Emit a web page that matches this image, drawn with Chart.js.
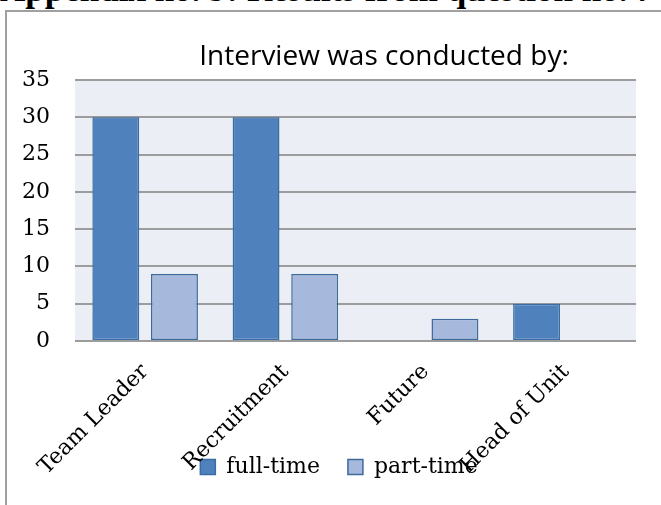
<!DOCTYPE html>
<html>
<head>
<meta charset="utf-8">
<script src="https://cdn.jsdelivr.net/npm/chart.js@4.4.0/dist/chart.umd.min.js"></script>
<style>
    html, body { margin: 0; padding: 0; background: #fff; overflow: hidden; }
    #wrap { position: relative; width: 661px; height: 505px; overflow: hidden; }
    #heading { position: absolute; left: 0; top: -28px; font: bold 35px "Liberation Serif", serif; line-height: 1; white-space: nowrap; color: #000; }
    #frame { position: absolute; left: 5px; top: 10px; width: 700px; height: 600px; border-left: 2px solid #a0a0a0; border-top: 2px solid #a0a0a0; }
    canvas { position: absolute; left: 0; top: 0; }
</style>
</head>
<body>
<div id="wrap">
    <div id="heading">Appendix no. 9: Results from question no. 7</div>
    <div id="frame"></div>
    <canvas id="interviewChart" width="661" height="505"></canvas>
</div>
<script>
// data
var categories = ['Team Leader', 'Recruitment', 'Future', 'Head of Unit'];
var fullTime = [30, 30, null, 5];
var partTime = [9, 9, 3, null];
var seriesNames = ['full-time', 'part-time'];
var yMax = 35;
var yStep = 5;

var SERIF = 'DejaVu Serif';
var PLOT_BG = '#ebeef4';

// fill the plot area; move title and legend to where the original has them
// (the legend overlaps the slanted category labels there, so the x axis box
// is stretched down too, otherwise its labels get clipped)
var plotLook = {
    id: 'plotLook',
    afterLayout: function(chart) {
        if (chart.titleBlock) {
            chart.titleBlock.left += 66;
            chart.titleBlock.right += 66;
        }
        if (chart.legend) {
            chart.legend.left += 21;
            chart.legend.right += 21;
            chart.legend.top -= 17;
            chart.legend.bottom -= 17;
        }
        var x = chart.scales.x;
        x.bottom = chart.height;
        x.height = x.bottom - x.top;
    },
    beforeDraw: function(chart) {
        var a = chart.chartArea;
        var ctx = chart.ctx;
        ctx.save();
        ctx.fillStyle = PLOT_BG;
        ctx.fillRect(a.left, a.top, a.right - a.left, a.bottom - a.top);
        ctx.restore();
    }
};

new Chart(document.getElementById('interviewChart'), {
    type: 'bar',
    data: {
        labels: categories,
        datasets: [
            { label: seriesNames[0], data: fullTime, backgroundColor: '#4f81bd', borderColor: '#3b6ca3', borderWidth: 1.5, borderSkipped: false },
            { label: seriesNames[1], data: partTime, backgroundColor: '#a6b9dc', borderColor: '#3d6a9c', borderWidth: 1.5, borderSkipped: false }
        ]
    },
    options: {
        responsive: false,
        animation: false,
        categoryPercentage: 0.836,
        barPercentage: 0.8,
        layout: { padding: { left: 0, right: 25, top: 25, bottom: 0 } },
        plugins: {
            title: {
                display: true,
                text: 'Interview was conducted by:',
                color: '#000',
                font: { family: 'Open Sans', size: 28, weight: 'normal' },
                padding: { top: 15, bottom: 6.4 }
            },
            legend: {
                position: 'bottom',
                labels: { color: '#000', font: { family: SERIF, size: 22 }, boxWidth: 15, boxHeight: 15, padding: 28 }
            },
            tooltip: { enabled: false }
        },
        scales: {
            x: {
                grid: { display: false },
                border: { display: false },
                ticks: { color: '#000', font: { family: SERIF, size: 22 }, minRotation: 45, maxRotation: 45, padding: 10 },
                afterFit: function(s) { s.height = 104; }
            },
            y: {
                min: 0,
                max: yMax,
                grid: { color: '#9c9c9c', lineWidth: 2, drawTicks: false },
                border: { display: false },
                ticks: { stepSize: yStep, color: '#000', font: { family: SERIF, size: 22 }, padding: 25 },
                afterFit: function(s) { s.width = 75; }
            }
        }
    },
    plugins: [plotLook]
});
</script>
</body>
</html>
